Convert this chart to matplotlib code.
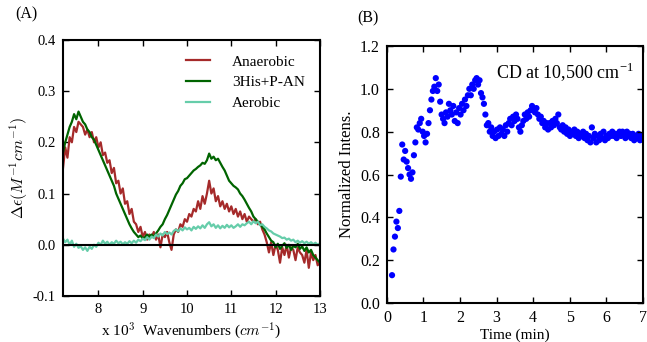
import numpy as np
import matplotlib
matplotlib.use("Agg")
import matplotlib.pyplot as plt

plt.rcParams['font.family'] = ['Liberation Serif', 'DejaVu Serif']
plt.rcParams['mathtext.fontset'] = 'cm'
plt.rcParams['axes.unicode_minus'] = True

# ---- panel A: CD difference spectra (x 10^3 cm^-1), sampled every 0.05 from 7.2 to 13.0
anaerobic = [
    0.15, 0.19, 0.17, 0.21, 0.20, 0.23, 0.22, 0.24, 0.235, 0.23,
    0.215, 0.225, 0.21, 0.22, 0.20, 0.21, 0.19, 0.20, 0.175, 0.18,
    0.16, 0.165, 0.14, 0.15, 0.12, 0.125, 0.10, 0.11, 0.08, 0.085,
    0.06, 0.07, 0.045, 0.04, 0.025, 0.035, 0.015, 0.025, 0.01, 0.02,
    0.015, 0.025, 0.01, 0.02, -0.005, 0.02, 0.015, 0.025, 0.005, -0.01,
    0.02, 0.03, 0.025, 0.04, 0.035, 0.05, 0.045, 0.06, 0.055, 0.07,
    0.065, 0.085, 0.07, 0.095, 0.08, 0.10, 0.125, 0.10, 0.11, 0.085,
    0.095, 0.075, 0.085, 0.07, 0.08, 0.065, 0.075, 0.06, 0.07, 0.055,
    0.065, 0.05, 0.06, 0.045, 0.055, 0.05, 0.045, 0.05, 0.04, 0.045,
    0.03, 0.02, 0.005, -0.015, 0.005, -0.02, 0.0, -0.01, -0.035, -0.005,
    -0.02, 0.0, -0.025, -0.005, -0.01, -0.03, -0.005, -0.015, -0.02, -0.035,
    -0.01, -0.045, -0.015, -0.03, -0.02, -0.04, -0.035,
]
his_pan = [
    0.18, 0.20, 0.215, 0.23, 0.24, 0.255, 0.245, 0.26, 0.25, 0.24,
    0.235, 0.225, 0.22, 0.21, 0.205, 0.195, 0.185, 0.175, 0.165, 0.155,
    0.145, 0.135, 0.125, 0.115, 0.10, 0.09, 0.08, 0.07, 0.06, 0.05,
    0.04, 0.032, 0.025, 0.02, 0.015, 0.018, 0.012, 0.015, 0.02, 0.015,
    0.02, 0.015, 0.022, 0.028, 0.035, 0.04, 0.05, 0.058, 0.068, 0.078,
    0.088, 0.098, 0.105, 0.115, 0.12, 0.128, 0.13, 0.135, 0.14, 0.145,
    0.148, 0.152, 0.155, 0.16, 0.158, 0.165, 0.178, 0.168, 0.172, 0.165,
    0.168, 0.16, 0.152, 0.145, 0.135, 0.125, 0.12, 0.115, 0.112, 0.108,
    0.10, 0.095, 0.088, 0.08, 0.072, 0.065, 0.055, 0.05, 0.045, 0.04,
    0.035, 0.03, 0.022, 0.015, 0.008, 0.005, -0.005, 0.002, -0.008, -0.002,
    0.003, -0.006, 0.0, -0.01, -0.002, -0.005, 0.002, -0.008, -0.003, -0.012,
    -0.005, -0.015, -0.01, -0.02, -0.025, -0.03, -0.035,
]
aerobic = [
    0.012, 0.005, 0.01, 0.0, 0.008, -0.004, 0.002, -0.006, -0.003, -0.01,
    -0.005, -0.012, -0.004, -0.008, 0.0, -0.004, 0.004, 0.0, 0.008, 0.002,
    0.006, 0.0, 0.005, 0.002, 0.008, 0.003, 0.006, 0.001, 0.005, 0.002,
    0.007, 0.003, 0.008, 0.004, 0.01, 0.007, 0.012, 0.009, 0.015, 0.01,
    0.016, 0.013, 0.02, 0.016, 0.022, 0.018, 0.025, 0.021, 0.024, 0.02,
    0.027, 0.03, 0.026, 0.032, 0.028, 0.034, 0.03, 0.033, 0.028, 0.035,
    0.031, 0.036, 0.032, 0.038, 0.033, 0.04, 0.044, 0.036, 0.04, 0.033,
    0.038, 0.032, 0.037, 0.033, 0.039, 0.034, 0.038, 0.033, 0.036, 0.04,
    0.035, 0.04, 0.038, 0.042, 0.045, 0.04, 0.046, 0.042, 0.045, 0.038,
    0.04, 0.035, 0.032, 0.028, 0.026, 0.022, 0.02, 0.018, 0.016, 0.013,
    0.014, 0.01, 0.012, 0.008, 0.01, 0.005, 0.008, 0.004, 0.007, 0.003,
    0.006, 0.002, 0.005, 0.001, 0.004, 0.0, 0.003,
]

# ---- panel B: normalized CD intensity at 10,500 cm^-1, sampled every 0.04 min from 0.14
intensity = [
    0.13, 0.25, 0.31, 0.38, 0.35, 0.43, 0.59, 0.74, 0.67, 0.71,
    0.66, 0.63, 0.60, 0.58, 0.61, 0.69, 0.75, 0.82, 0.81, 0.84,
    0.86, 0.80, 0.78, 0.75, 0.79, 0.84, 0.90, 0.95, 0.99, 1.01,
    1.05, 0.99, 1.02, 0.94, 0.88, 0.86, 0.84, 0.89, 0.87, 0.93,
    0.90, 0.88, 0.92, 0.85, 0.89, 0.84, 0.91, 0.88, 0.93, 0.90,
    0.95, 0.92, 0.97, 1.00, 0.97, 1.02, 1.00, 1.04, 1.05, 1.02,
    1.04, 0.98, 0.96, 0.93, 0.88, 0.83, 0.84, 0.80, 0.82, 0.78,
    0.80, 0.77, 0.81, 0.78, 0.82, 0.79, 0.81, 0.78, 0.83, 0.80,
    0.84, 0.86, 0.83, 0.87, 0.85, 0.88, 0.86, 0.82, 0.80, 0.83,
    0.85, 0.88, 0.86, 0.89, 0.87, 0.90, 0.92, 0.91, 0.89, 0.91,
    0.88, 0.86, 0.87, 0.84, 0.85, 0.82, 0.84, 0.81, 0.84, 0.82,
    0.85, 0.83, 0.86, 0.84, 0.88, 0.82, 0.81, 0.83, 0.80, 0.82,
    0.79, 0.81, 0.78, 0.80, 0.79, 0.81, 0.78, 0.80, 0.77, 0.79,
    0.78, 0.80, 0.77, 0.79, 0.76, 0.78, 0.75, 0.82, 0.77, 0.79,
    0.75, 0.78, 0.76, 0.79, 0.77, 0.80, 0.76, 0.78, 0.77, 0.79,
    0.78, 0.80, 0.78, 0.79, 0.77, 0.79, 0.80, 0.78, 0.80, 0.79,
    0.77, 0.80, 0.78, 0.79, 0.77, 0.79, 0.76, 0.78, 0.77, 0.79,
    0.76, 0.78, 0.77,
]

wavenumber = np.linspace(7.2, 13.0, len(anaerobic))
time_min = np.linspace(0.14, 7.0, len(intensity))

fig = plt.figure(figsize=(6.47, 3.42), dpi=100)
axA = fig.add_axes([0.0974, 0.1345, 0.397, 0.749])
axB = fig.add_axes([0.598, 0.114, 0.3957, 0.7515])

for ax in (axA, axB):
    for sp in ax.spines.values():
        sp.set_linewidth(1.5)
    ax.tick_params(direction='in', top=True, right=True, length=4,
                   width=1, pad=5)
axA.tick_params(labelsize=10.5)
axB.tick_params(labelsize=11.5)

# panel A
axA.plot(wavenumber, anaerobic, color='#a52a2a', lw=1.6, label='Anaerobic')
axA.plot(wavenumber, his_pan, color='#006400', lw=1.6, label='3His+P-AN')
axA.plot(wavenumber, aerobic, color='#66cdaa', lw=1.6, label='Aerobic')
axA.axhline(0, color='black', lw=1.5)
axA.set_xlim(7.2, 13.0)
axA.set_ylim(-0.1, 0.4)
axA.set_xticks([8, 9, 10, 11, 12, 13])
axA.set_yticks([-0.1, 0.0, 0.1, 0.2, 0.3, 0.4])
axA.yaxis.set_major_formatter(plt.FormatStrFormatter('%.1f'))
axA.set_xlabel(r'x 10$^3$  Wavenumbers ($cm^{-1}$)', fontsize=11, labelpad=3)
axA.set_ylabel(r'$\Delta\epsilon(M^{-1}cm^{-1})$', fontsize=11.5, labelpad=2)
axA.legend(loc='upper right', frameon=False, fontsize=11, handlelength=1.6,
           handletextpad=1.4, labelspacing=0.45, borderaxespad=0.6)
fig.text(0.023, 0.945, '(A)', fontsize=11.5)

# panel B
axB.scatter(time_min, intensity, s=20, color='#0000ff', edgecolors='none')
axB.set_xlim(0, 7)
axB.set_ylim(0, 1.2)
axB.set_xticks(range(8))
axB.set_yticks([0.0, 0.2, 0.4, 0.6, 0.8, 1.0, 1.2])
axB.yaxis.set_major_formatter(plt.FormatStrFormatter('%.1f'))
axB.set_xlabel('Time (min)', fontsize=11, labelpad=2)
axB.set_ylabel('Normalized Intens.', fontsize=12, labelpad=4)
axB.text(0.965, 0.9, r'CD at 10,500 cm$^{\mathregular{-1}}$', transform=axB.transAxes,
         ha='right', va='center', fontsize=13)
fig.text(0.552, 0.935, '(B)', fontsize=11.5)

fig.savefig('out.png', dpi=100)
